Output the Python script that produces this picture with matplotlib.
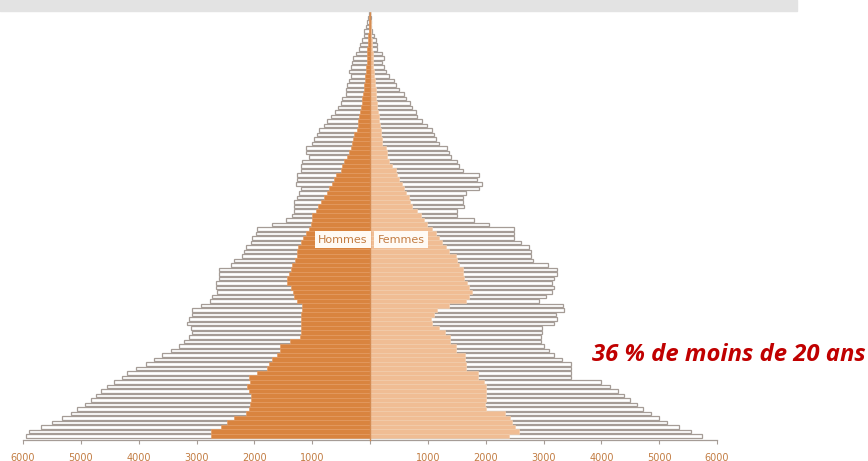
import numpy as np
import matplotlib
matplotlib.use('Agg')
import matplotlib.pyplot as plt
from matplotlib.patches import Rectangle

# Population pyramid: filled = population, outline = comparison population (by age 0..94)

ages = np.arange(95)

hommes_ref = [5950, 5900, 5690, 5500, 5330, 5170, 5070, 4930, 4830, 4740,
              4650, 4550, 4430, 4290, 4200, 4050, 3880, 3740, 3600, 3440,
              3300, 3220, 3130, 3080, 3100, 3160, 3130, 3080, 3080, 2930,
              2760, 2730, 2640, 2670, 2670, 2610, 2610, 2610, 2410, 2350,
              2210, 2180, 2150, 2060, 2040, 1970, 1950, 1690, 1450, 1350,
              1310, 1310, 1310, 1260, 1230, 1200, 1280, 1260, 1260, 1200,
              1200, 1170, 1060, 1110, 1110, 1000, 970, 910, 880, 800,
              740, 680, 600, 560, 500, 480, 420, 420, 400, 360,
              330, 360, 330, 310, 290, 240, 190, 170, 140, 100,
              100, 70, 50, 30, 15]

femmes_ref = [5740, 5550, 5350, 5140, 5000, 4860, 4720, 4620, 4500, 4400,
              4280, 4150, 4000, 3480, 3480, 3480, 3480, 3320, 3180, 3100,
              3010, 2960, 2960, 2980, 2980, 3180, 3240, 3210, 3360, 3330,
              2920, 3040, 3150, 3180, 3150, 3180, 3240, 3240, 3070, 2810,
              2780, 2780, 2750, 2610, 2490, 2490, 2490, 2060, 1800, 1510,
              1510, 1630, 1600, 1600, 1660, 1890, 1940, 1850, 1890, 1600,
              1540, 1510, 1400, 1370, 1330, 1190, 1140, 1110, 1070, 990,
              900, 810, 790, 730, 700, 620, 590, 500, 450, 420,
              330, 270, 240, 210, 240, 210, 120, 120, 100, 70,
              40, 20, 15, 10, 5]

hommes = [2750, 2750, 2580, 2480, 2360, 2150, 2100, 2080, 2050, 2060,
          2100, 2120, 2080, 2100, 1950, 1780, 1750, 1700, 1610, 1550,
          1550, 1380, 1210, 1200, 1200, 1200, 1200, 1200, 1180, 1180,
          1260, 1310, 1340, 1370, 1430, 1430, 1400, 1370, 1350, 1290,
          1260, 1260, 1250, 1200, 1150, 1110, 1050, 1020, 1010, 1000,
          940, 900, 850, 800, 750, 710, 660, 620, 590, 500,
          480, 450, 400, 360, 330, 310, 290, 280, 220, 210,
          200, 190, 170, 160, 140, 130, 120, 110, 100, 90,
          80, 75, 70, 60, 55, 50, 45, 40, 35, 30,
          25, 20, 15, 10, 5]

femmes = [2410, 2580, 2500, 2450, 2420, 2330, 2000, 1990, 2000, 2000,
          2000, 2000, 1970, 1860, 1860, 1660, 1660, 1640, 1640, 1490,
          1490, 1380, 1380, 1300, 1200, 1080, 1050, 1100, 1160, 1370,
          1660, 1710, 1770, 1720, 1680, 1630, 1600, 1600, 1540, 1510,
          1490, 1370, 1310, 1250, 1190, 1140, 1070, 990, 930, 880,
          810, 730, 700, 670, 620, 590, 560, 500, 470, 450,
          380, 330, 300, 290, 280, 210, 200, 190, 190, 170,
          160, 150, 130, 125, 120, 110, 110, 100, 90, 80,
          70, 65, 60, 55, 50, 45, 40, 35, 30, 25,
          20, 15, 10, 8, 5]

ticks = [-6000, -5000, -4000, -3000, -2000, -1000, 0, 1000, 2000, 3000, 4000, 5000, 6000]
tick_labels = ['6000', '5000', '4000', '3000', '2000', '1000', '', '1000', '2000', '3000', '4000', '5000', '6000']

brown = '#c27c42'
outline = '#a59c96'
narrow = ['Liberation Sans Narrow', 'DejaVu Sans']

fig = plt.figure(figsize=(8.68, 4.61), dpi=100)
fig.patches.append(Rectangle((0, 1 - 11 / 461), 797 / 868, 11 / 461,
                             transform=fig.transFigure, color='#e3e3e3', zorder=0))

ax = fig.add_axes([23 / 868, 21 / 461, 694 / 868, 431.5 / 461])

# outline bars (reference population)
ax.barh(ages, -np.array(hommes_ref), height=0.78, color='white', edgecolor=outline, linewidth=0.9, zorder=1)
ax.barh(ages, femmes_ref, height=0.78, color='white', edgecolor=outline, linewidth=0.9, zorder=1)

# filled bars
ax.barh(ages, -np.array(hommes), height=1.0, color='#d9843f', edgecolor='#e59c62', linewidth=0.5, zorder=2)
ax.barh(ages, femmes, height=1.0, color='#f0bd94', edgecolor='#f5cfae', linewidth=0.5, zorder=2)

ax.axvline(0, ymin=0, ymax=1.01, color='#d58c52', linewidth=1.0, zorder=3, clip_on=False)

ax.text(-40, 43.6, 'Hommes', ha='right', va='center', fontsize=8, color=brown,
        family=narrow, zorder=4,
        bbox=dict(boxstyle='square,pad=0.3', fc='#fffaf4', ec='none'))
ax.text(130, 43.6, 'Femmes', ha='left', va='center', fontsize=8, color=brown,
        family=narrow, zorder=4,
        bbox=dict(boxstyle='square,pad=0.3', fc='#fffaf4', ec='none'))

ax.set_xlim(-6000, 6000)
ax.set_ylim(-0.9, 95)
ax.set_xticks(ticks)
ax.set_xticklabels(tick_labels, color=brown, fontsize=7, family=narrow)
ax.tick_params(axis='x', colors=outline, labelcolor=brown, length=3, width=0.8, pad=6)
ax.set_yticks([])
for side in ['top', 'left', 'right']:
    ax.spines[side].set_visible(False)
ax.spines['bottom'].set_color(outline)
ax.spines['bottom'].set_linewidth(0.9)

fig.text(592 / 868, 1 - 355 / 461, '36 % de moins de 20 ans', ha='left', va='center',
         fontsize=17.2, color='#c00000', fontweight='bold', fontstyle='italic',
         family=['Open Sans', 'DejaVu Sans'])

fig.savefig('out.png', dpi=100)
